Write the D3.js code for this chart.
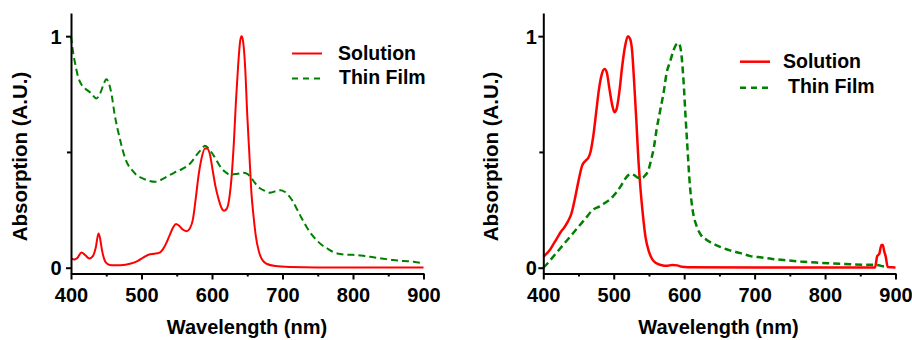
<!DOCTYPE html>
<html><head><meta charset="utf-8">
<script src="https://cdn.jsdelivr.net/npm/d3@7"></script>
<style>
body{margin:0;background:#fff;}
svg{display:block;}
text{font-family:"Liberation Sans",Arial,sans-serif;font-weight:bold;fill:#000;}
</style></head><body>
<svg id="chart" width="912" height="340"></svg>
<script>
// ---------- data ----------
const xTicks = [400, 500, 600, 700, 800, 900];
const xMinorTicks = [450, 550, 650, 750, 850];
const yTicks = [0, 1];
const yMinorTicks = [0.5];
const seriesNames = ["Solution", "Thin Film"];
const xTitle = "Wavelength (nm)";
const yTitle = "Absorption (A.U.)";

// left panel: [wavelength, absorption]
const leftSolution = [[400,0.040],[405,0.036],[409,0.042],[415,0.066],[420,0.055],[426,0.040],[431,0.050],[435,0.085],[439,0.148],[441,0.130],[444,0.075],[448,0.030],[452,0.016],[458,0.011],[470,0.011],[485,0.018],[495,0.030],[503,0.045],[510,0.056],[518,0.060],[525,0.064],[530,0.078],[535,0.105],[540,0.141],[545,0.175],[549,0.189],[553,0.182],[558,0.166],[564,0.158],[569,0.172],[573,0.21],[577,0.30],[581,0.40],[585,0.47],[590,0.515],[593,0.515],[597,0.49],[601,0.42],[605,0.35],[609,0.30],[613,0.262],[617,0.246],[621,0.255],[625,0.31],[628,0.40],[631,0.54],[634,0.72],[637,0.87],[640,0.98],[642,1.0],[644,0.98],[647,0.868],[650,0.66],[653,0.49],[656,0.32],[659,0.22],[662,0.14],[666,0.076],[671,0.035],[678,0.016],[690,0.007],[710,0.003],[750,0.001],[800,0.001],[900,0.001]];
const leftFilm = [[400,1.0],[403,0.93],[406,0.88],[410,0.825],[415,0.79],[420,0.774],[428,0.755],[436,0.731],[441,0.75],[446,0.79],[450,0.814],[454,0.795],[458,0.74],[462,0.66],[466,0.60],[470,0.548],[475,0.49],[480,0.45],[487,0.42],[493,0.40],[500,0.388],[508,0.378],[519,0.371],[528,0.38],[536,0.393],[546,0.41],[555,0.422],[569,0.45],[580,0.494],[586,0.515],[590,0.527],[595,0.515],[602,0.486],[611,0.44],[618,0.415],[626,0.402],[635,0.405],[644,0.41],[650,0.405],[655,0.39],[662,0.362],[668,0.343],[675,0.332],[682,0.324],[690,0.330],[697,0.335],[703,0.328],[708,0.314],[714,0.29],[720,0.256],[727,0.215],[734,0.177],[741,0.145],[748,0.12],[755,0.10],[763,0.084],[772,0.068],[782,0.059],[795,0.056],[805,0.055],[818,0.05],[829,0.045],[843,0.039],[857,0.033],[872,0.029],[886,0.026],[900,0.019]];

// right panel: [wavelength, absorption]
const rightSolution = [[400,0.047],[405,0.062],[410,0.08],[415,0.105],[420,0.13],[425,0.155],[430,0.175],[435,0.20],[440,0.235],[445,0.30],[450,0.375],[455,0.44],[460,0.462],[464,0.475],[467,0.50],[471,0.57],[475,0.67],[479,0.77],[483,0.835],[487,0.858],[490,0.845],[494,0.77],[498,0.70],[501,0.671],[504,0.685],[508,0.76],[512,0.87],[516,0.955],[520,1.0],[523,0.99],[526,0.94],[529,0.80],[532,0.64],[535,0.467],[538,0.34],[541,0.24],[545,0.134],[550,0.069],[555,0.035],[560,0.02],[567,0.012],[575,0.008],[583,0.012],[590,0.010],[597,0.004],[605,0.002],[700,0.001],[871,0.001],[874,0.05],[877,0.06],[880,0.098],[882,0.098],[884,0.07],[886,0.05],[889,0.003],[900,0.001]];
const rightFilm = [[400,0.0],[405,0.015],[410,0.033],[420,0.069],[430,0.105],[440,0.141],[450,0.177],[460,0.213],[470,0.249],[480,0.265],[490,0.285],[495,0.295],[500,0.312],[505,0.33],[510,0.352],[515,0.378],[520,0.398],[525,0.405],[530,0.398],[535,0.388],[540,0.388],[545,0.40],[549,0.42],[553,0.465],[557,0.52],[561,0.60],[566,0.68],[571,0.76],[575,0.84],[580,0.89],[585,0.94],[589,0.965],[592,0.97],[595,0.945],[599,0.81],[602,0.65],[604,0.55],[608,0.36],[612,0.25],[618,0.177],[624,0.14],[632,0.12],[640,0.105],[651,0.09],[665,0.075],[680,0.063],[694,0.05],[710,0.044],[725,0.038],[741,0.033],[765,0.027],[788,0.022],[812,0.018],[836,0.015],[855,0.013],[873,0.012],[880,0.008],[885,0.004],[888,0.003]];

// ---------- layout ----------
const RED = "#ff0000", GREEN = "#008000";
const panels = [
  {x0:71, x1:423.5, sol:leftSolution, film:leftFilm, labelGap:9.5, yTitleX:27, xTitleX:247, lw:2,
   legLine:[292,322], legY:[53.5,78.5], legTextX:[338,339], legTextY:[59.5,83.5]},
  {x0:543.3, x1:895.5, sol:rightSolution, film:rightFilm, labelGap:6.5, yTitleX:498, xTitleX:718.5, lw:2.5,
   legLine:[740,770], legY:[61.7,87.7], legTextX:[783,788], legTextY:[67.7,93.3]}
];
const yTop = 13, yBot = 273.5;
const svg = d3.select("#chart");

panels.forEach(p => {
  const x = d3.scaleLinear().domain([400, 900]).range([p.x0, p.x1]);
  const y = d3.scaleLinear().domain([-0.025, 1.1]).range([yBot, yTop]);
  const g = svg.append("g");

  const line = d3.line().x(d => x(d[0])).y(d => y(d[1])).curve(d3.curveMonotoneX);
  g.append("path").datum(p.sol).attr("d", line)
    .attr("fill","none").attr("stroke",RED).attr("stroke-width",p.lw);
  g.append("path").datum(p.film).attr("d", line)
    .attr("fill","none").attr("stroke",GREEN).attr("stroke-width",p.lw).attr("stroke-dasharray","7,4");

  // x axis
  const xa = g.append("g").attr("transform",`translate(0,${yBot})`)
    .call(d3.axisBottom(x).tickValues(xTicks).tickSize(6).tickSizeOuter(0).tickFormat(d3.format("d")));
  const xm = g.append("g").attr("transform",`translate(0,${yBot})`)
    .call(d3.axisBottom(x).tickValues(xMinorTicks).tickSize(3).tickSizeOuter(0).tickFormat(""));
  xm.select(".domain").remove();
  // y axis
  const ya = g.append("g").attr("transform",`translate(${p.x0},0)`)
    .call(d3.axisLeft(y).tickValues(yTicks).tickSize(5).tickSizeOuter(0).tickFormat(d3.format("d")));
  const ym = g.append("g").attr("transform",`translate(${p.x0},0)`)
    .call(d3.axisLeft(y).tickValues(yMinorTicks).tickSize(4).tickSizeOuter(0).tickFormat(""));
  ym.select(".domain").remove();

  [xa, xm, ya, ym].forEach(a => {
    a.selectAll("path,line").attr("stroke","#000").attr("stroke-width",2);
    a.attr("font-family",null).attr("font-size",null);
  });
  xa.selectAll("text").attr("y", null).attr("dy", null)
    .attr("transform","translate(0,28.5)").style("font-size","20px").attr("text-anchor","middle");
  ya.selectAll("text").attr("x", -p.labelGap).attr("dy","0.36em")
    .style("font-size","20px").attr("text-anchor","end");

  // titles
  g.append("text").attr("x", p.xTitleX).attr("y", 333.5).attr("text-anchor","middle")
    .style("font-size","20px").text(xTitle);
  g.append("text").attr("transform",`translate(${p.yTitleX},156.5) rotate(-90)`)
    .attr("text-anchor","middle").style("font-size","20.5px").text(yTitle);

  // legend
  const cols = [RED, GREEN];
  cols.forEach((c, i) => {
    g.append("line").attr("x1", p.legLine[0]).attr("x2", p.legLine[1])
      .attr("y1", p.legY[i]).attr("y2", p.legY[i])
      .attr("stroke", c).attr("stroke-width", p.lw)
      .attr("stroke-dasharray", i === 1 ? "6,5" : null);
    g.append("text").attr("x", p.legTextX[i]).attr("y", p.legTextY[i])
      .style("font-size","19.5px").text(seriesNames[i]);
  });
});
</script>
</body></html>
